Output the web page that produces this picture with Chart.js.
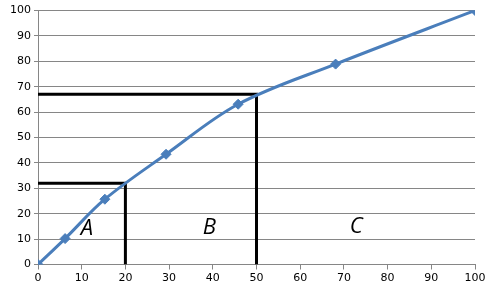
<!DOCTYPE html>
<html><head><meta charset="utf-8">
<script src="https://cdn.jsdelivr.net/npm/chart.js@4/dist/chart.umd.min.js"></script>
<style>html,body{margin:0;padding:0;background:#fff}#wrap{width:495px;height:293px}</style>
</head><body><div id="wrap"><canvas id="c" width="495" height="293"></canvas></div>
<script>
const curveX = [0, 6.2, 15.3, 29.3, 45.8, 68.1, 100];
const curveY = [0, 10.2, 25.7, 43.4, 63.1, 78.9, 100];
const guideAX = [0, 20, 20];
const guideAY = [32, 32, 0];
const guideBX = [0, 50, 50];
const guideBY = [67, 67, 0];
const regionLabels = ['A', 'B', 'C'];
const regionX = [11.2, 39.2, 72.8];
const regionY = [14, 14.5, 15];
const xTicks = [0,10,20,30,40,50,60,70,80,90,100];
const yTicks = [0,10,20,30,40,50,60,70,80,90,100];

const pts = (xs, ys) => xs.map((x,i)=>({x, y: ys[i]}));

const labelPlugin = {
  id: 'regionLabels',
  afterDatasetsDraw(chart) {
    const ctx = chart.ctx, xs = chart.scales.x, ys = chart.scales.y;
    ctx.save();
    ctx.font = 'italic 22px "Open Sans", sans-serif';
    ctx.fillStyle = '#000';
    ctx.textAlign = 'center';
    ctx.textBaseline = 'middle';
    regionLabels.forEach((t,i)=>ctx.fillText(t, xs.getPixelForValue(regionX[i]), ys.getPixelForValue(regionY[i])));
    ctx.restore();
  }
};

new Chart(document.getElementById('c'), {
  type: 'scatter',
  data: { datasets: [
    { data: pts(guideAX, guideAY), showLine: true, borderColor: '#000', borderWidth: 3, pointRadius: 0, tension: 0, order: 2 },
    { data: pts(guideBX, guideBY), showLine: true, borderColor: '#000', borderWidth: 3, pointRadius: 0, tension: 0, order: 2 },
    { data: pts(curveX, curveY), showLine: true, borderColor: '#4a7ebb', backgroundColor: '#4a7ebb', borderWidth: 3,
      pointStyle: 'rectRot', pointRadius: 5, pointBorderWidth: 1, tension: 0.35, order: 1 }
  ]},
  options: {
    responsive: false, animation: false,
    layout: { padding: { top: 10.5, right: 20, left: 0, bottom: 0 } },
    plugins: { legend: { display: false }, tooltip: { enabled: false } },
    scales: {
      x: { type: 'linear', min: 0, max: 100,
        afterBuildTicks: s => { s.ticks = xTicks.map(v=>({value:v})); },
        afterFit: s => { s.height = 28.5; },
        grid: { drawOnChartArea: false, drawTicks: true, tickLength: 5, color: '#868686' },
        border: { color: '#868686', width: 1 },
        ticks: { color: '#000', font: { family: '"DejaVu Sans"', size: 11 }, padding: 2, maxRotation: 0 } },
      y: { min: 0, max: 100,
        afterBuildTicks: s => { s.ticks = yTicks.map(v=>({value:v})); },
        afterFit: s => { s.width = 38; },
        grid: { color: '#868686', lineWidth: 1, tickLength: 4 },
        border: { color: '#868686', width: 1 },
        ticks: { color: '#000', font: { family: '"DejaVu Sans"', size: 11 }, padding: 3 } }
    }
  },
  plugins: [labelPlugin]
});
</script></body></html>
